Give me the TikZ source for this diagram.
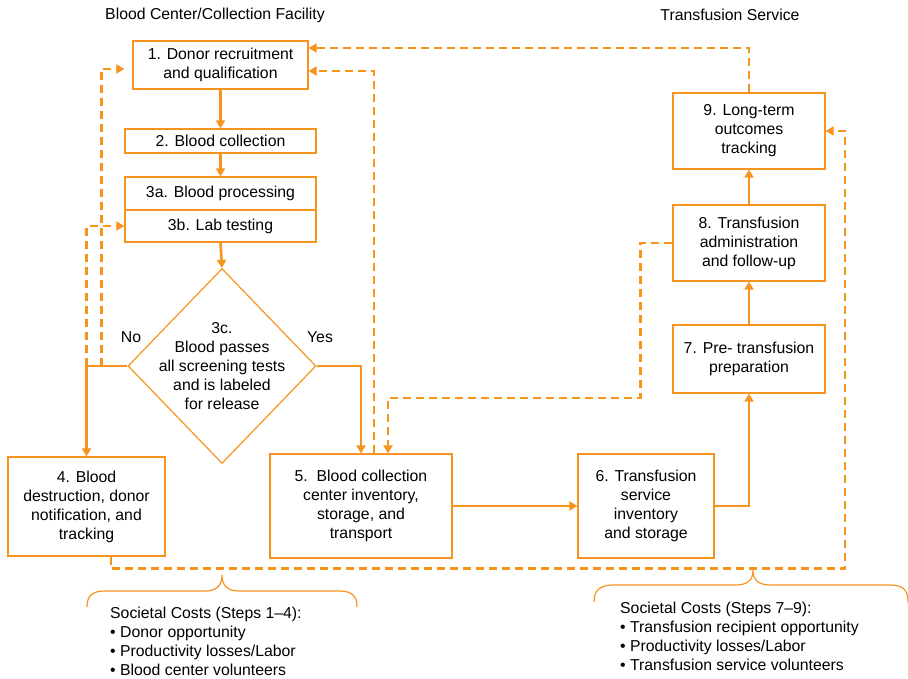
\documentclass[tikz,border=0pt]{standalone}
\usepackage{fontspec}
\setmainfont{Liberation Sans}
\usetikzlibrary{shapes.geometric,arrows.meta,calc}
\definecolor{org}{RGB}{247,148,29}
\begin{document}
\begin{tikzpicture}[x=1pt,y=-1pt,
  txt/.style={inner sep=0pt, font=\fontsize{15.8}{19}\selectfont, text=black},
  box/.style={txt, draw=org, line width=1.2pt, align=center},
  flow/.style={draw=org, line width=2.6pt, -{Triangle[length=8pt,width=9pt]}},
  dflow/.style={draw=org, line width=2.6pt, dash pattern=on 8pt off 5pt, -{Triangle[length=8pt,width=9pt]}},
  bracestyle/.style={draw=org, line width=1.2pt}]
\useasboundingbox (0,0) rectangle (908,678);

% headers
\node[txt] (h1) at (215,15) {Blood Center/Collection Facility};
\node[txt] (h2) at (730,15) {Transfusion Service};

% boxes
\node[box, minimum width=175pt, minimum height=48pt] (b1) at (220.5,65) {1. Donor recruitment\\and qualification};
\node[box, minimum width=191pt, minimum height=24pt] (b2) at (220.5,141) {2. Blood collection};
\node[box, minimum width=191pt, minimum height=33pt] (b3a) at (220.5,193.5) {3a. Blood processing};
\node[box, minimum width=191pt, minimum height=32pt] (b3b) at (220.5,226) {3b. Lab testing};
\node[diamond, draw=org, line width=1.2pt, minimum width=188pt, minimum height=195pt, inner sep=0pt] (d) at (222,366) {};
\node[txt, align=center] (dt) at (d.center) {3c.\\Blood passes\\all screening tests\\and is labeled\\for release};
\node[box, minimum width=157pt, minimum height=99pt] (b4) at (86.5,506.5) {4. Blood\\destruction, donor\\notification, and\\tracking};
\node[box, minimum width=182pt, minimum height=104pt] (b5) at (361,506) {5.\ \ Blood collection\\center inventory,\\storage, and\\transport};
\node[box, minimum width=136pt, minimum height=104pt] (b6) at (646,506) {6. Transfusion\\service\\inventory\\and storage};
\node[box, minimum width=152pt, minimum height=68pt] (b7) at (749,359) {7. Pre- transfusion\\preparation};
\node[box, minimum width=152pt, minimum height=76pt] (b8) at (749,243) {8. Transfusion\\administration\\and follow-up};
\node[box, minimum width=152pt, minimum height=76pt] (b9) at (749,131) {9. Long-term\\outcomes\\tracking};

\node[txt] (no) at (131,337) {No};
\node[txt] (yes) at (320,337) {Yes};

% solid flow
\draw[flow] (b1.south) -- (b2.north);
\draw[flow] (b2.south) -- (b3a.north);
\draw[flow] (b3b.south) -- (d.north);
\draw[flow] (d.west) -| (b4.north);
\draw[flow] (d.east) -| (b5.north);
\draw[flow] (b5.east) -- (b6.west);
\draw[flow] (b6.east) -| (b7.south);
\draw[flow] (b7.north) -- (b8.south);
\draw[flow] (b8.north) -- (b9.south);

% dashed feedback
\coordinate (nc) at (d.west -| b4.north);
\coordinate (nd) at ([xshift=-26pt]d.west);
\draw[dflow] (nc) |- (b3b.west);
\draw[dflow] (nd) |- ([xshift=-8pt,yshift=-4pt]b1.west);
\draw[dflow] (b9.north) |- ([yshift=17pt]b1.east);
\draw[dflow] ([xshift=13pt]b5.north) |- ([yshift=-6pt]b1.east);
\draw[dflow] (b8.west) -- ++(-32,0) -- ++(0,155) -| ([xshift=27pt]b5.north);
\draw[dflow] ([xshift=24.5pt]b4.south) -- ++(0,12) -- ++(734,0) |- (b9.east);

% braces
\draw[bracestyle] (87,607) .. controls (87,596) and (92,591) .. (105,591) -- (205,591) .. controls (217,591) and (222,585) .. (222,575) .. controls (222,585) and (227,591) .. (239,591) -- (339,591) .. controls (352,591) and (357,596) .. (357,607);
\draw[bracestyle] (594,602) .. controls (594,591) and (599,585) .. (614,585) -- (735,585) .. controls (748,585) and (753,580) .. (753,570) .. controls (753,580) and (758,585) .. (771,585) -- (890,585) .. controls (903,585) and (908,590) .. (908,602);

% cost texts
\node[txt, align=left, anchor=north west] (c1) at (110,607) {Societal Costs (Steps 1–4):\\• Donor opportunity\\• Productivity losses/Labor\\• Blood center volunteers};
\node[txt, align=left, anchor=north west] (c2) at (620,602) {Societal Costs (Steps 7–9):\\• Transfusion recipient opportunity\\• Productivity losses/Labor\\• Transfusion service volunteers};
\end{tikzpicture}
\end{document}
